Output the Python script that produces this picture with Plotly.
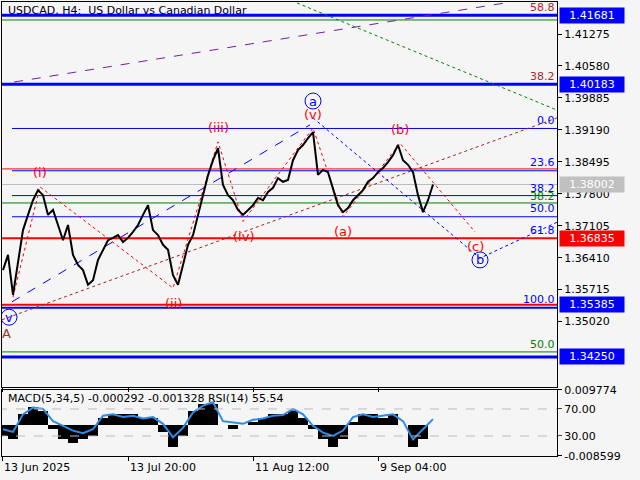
import plotly.graph_objects as go
from plotly.subplots import make_subplots

# --- data ---
close = [1.3614, 1.3647, 1.3560, 1.3636, 1.3701, 1.3734, 1.3766, 1.3788, 1.3777, 1.3734,
         1.3745, 1.3712, 1.3679, 1.3712, 1.3647, 1.3625, 1.3614, 1.3582, 1.3592, 1.3636,
         1.3658, 1.3679, 1.3684, 1.3690, 1.3675, 1.3684, 1.3697, 1.3712, 1.3734, 1.3755,
         1.3701, 1.3690, 1.3669, 1.3658, 1.3603, 1.3582, 1.3625, 1.3669, 1.3690, 1.3734,
         1.3777, 1.3820, 1.3853, 1.3879, 1.3799, 1.3777, 1.3766, 1.3745, 1.3734, 1.3745,
         1.3755, 1.3771, 1.3766, 1.3784, 1.3793, 1.3814, 1.3806, 1.3810, 1.3853, 1.3875,
         1.3886, 1.3901, 1.3914, 1.3821, 1.3832, 1.3827, 1.3788, 1.3755, 1.3740, 1.3749,
         1.3766, 1.3777, 1.3788, 1.3806, 1.3814, 1.3827, 1.3836, 1.3849, 1.3864, 1.3886,
         1.3853, 1.3843, 1.3827, 1.3777, 1.3740, 1.3766, 1.3800]
bars = list(range(len(close)))

macd_x = [i * 2 for i in range(44)]
macd_hist = [-0.003, -0.004, 0.003, 0.005, 0.004, -0.001, -0.004, -0.005, -0.004, -0.003,
             0.002, 0.003, 0.003, 0.003, 0.002, 0.002, -0.002, -0.006, -0.003, 0.004,
             0.006, 0.006, 0.0, -0.001, 0.0, 0.001, 0.002, 0.003, 0.003, 0.004,
             0.002, -0.001, -0.004, -0.006, -0.004, 0.001, 0.003, 0.003, 0.002, 0.003,
             0.0, -0.006, -0.004, 0.0]
rsi = [40, 36, 62, 72, 70, 52, 45, 38, 34, 40, 60, 62, 58, 60, 56, 58, 48, 28, 42, 65,
       75, 80, 52, 50, 48, 54, 56, 60, 61, 70, 62, 45, 35, 30, 38, 58, 62, 58, 60, 62,
       52, 25, 40, 55]

price_ticks = [1.41275, 1.40580, 1.39885, 1.39190, 1.38495, 1.37800, 1.37105, 1.36410, 1.35715, 1.35020]
date_ticks = [-0.2, 25, 50, 75]
date_labels = ["13 Jun 2025", "13 Jul 20:00", "11 Aug 12:00", "9 Sep 04:00"]

# wave pivots (bar index, price)
wave_x = [2, 7.4, 34, 43, 48, 62, 68, 79.4, 94.4]
wave_y = [1.3555, 1.3795, 1.3575, 1.3893, 1.3720, 1.3923, 1.3730, 1.3890, 1.3697]
wave_txt = ["", "(i)", "(ii)", "(iii)", "(iv)", "(v)", "(a)", "(b)", "(c)"]
wave_pos = ["", "above", "below", "above", "below", "above", "below", "above", "below"]

# horizontal levels: price, colour, width, start bar
levels = [(1.41681, "red", 1, -1), (1.41681, "blue", 3, -1), (1.4158, "green", 1, -1),
          (1.40183, "red", 1, -1), (1.40183, "blue", 3, -1), (1.3922, "blue", 1, 1.8),
          (1.3834, "red", 1, -1), (1.3830, "blue", 1, 1.8), (1.38002, "#bbbbbb", 1, -1),
          (1.3776, "blue", 1, 1.8), (1.3760, "green", 1, -1), (1.3730, "blue", 1, 1.8),
          (1.36835, "red", 2, -1), (1.35385, "red", 2, -1), (1.35320, "blue", 2, -1),
          (1.3436, "green", 1, -1), (1.34250, "blue", 3, -1)]

# fib labels: text, price, colour
fib_labels = [("58.8", 1.4186, "brown"), ("38.2", 1.4035, "brown"), ("0.0", 1.3940, "blue"),
              ("23.6", 1.3848, "blue"), ("38.2", 1.3792, "blue"), ("38.2", 1.3773, "green"),
              ("50.0", 1.3747, "blue"), ("61.8", 1.3700, "blue"), ("100.0", 1.3550, "blue"),
              ("50.0", 1.3452, "green")]

# price boxes on the axis: text, price, background
boxes = [("1.41681", 1.41681, "blue"), ("1.40183", 1.40183, "blue"), ("1.38002", 1.38002, "#c0c0c0"),
         ("1.36835", 1.36835, "red"), ("1.35385", 1.35385, "blue"), ("1.34250", 1.34250, "blue")]

# trend lines: (x list, y list, colour, dash)
trends = [([2.2, 100.4], [1.4023, 1.4195], "#7020a0", "dash"),
          ([58.8, 110.8], [1.4195, 1.3962], "green", "dot"),
          ([-0.2, 110.8], [1.3506, 1.3945], "#a02020", "dot"),
          ([1.8, 61.4], [1.3545, 1.3930], "blue", "dash"),
          ([62, 95.4, 110.8], [1.3945, 1.3640, 1.3718], "blue", "dot")]

FONT = "DejaVu Sans"
XMAX = 110.8

fig = make_subplots(rows=2, cols=1, shared_xaxes=True, row_heights=[0.85, 0.15],
                    vertical_spacing=0.006, specs=[[{}], [{"secondary_y": True}]])

for tx, ty, col, dash in trends:
    fig.add_trace(go.Scatter(x=tx, y=ty, mode="lines", line=dict(color=col, width=1, dash=dash),
                             hoverinfo="skip"), row=1, col=1)

fig.add_trace(go.Scatter(x=wave_x, y=wave_y, mode="lines", line=dict(color="red", width=1, dash="dot"),
                         hoverinfo="skip"), row=1, col=1)

fig.add_trace(go.Scatter(x=bars, y=close, mode="lines", line=dict(color="black", width=2)), row=1, col=1)

for price, col, w, x0 in levels:
    fig.add_shape(type="line", x0=x0, x1=XMAX, y0=price, y1=price, line=dict(color=col, width=w),
                  xref="x", yref="y", layer="below")

for t, px, py, pos in zip(wave_txt, wave_x, wave_y, wave_pos):
    if t:
        fig.add_annotation(x=px, y=py, text=t, showarrow=False, font=dict(color="red", size=13, family=FONT),
                           yshift=14 if pos == "above" else -15, xref="x", yref="y")

for t, px, py, sh in [("a", 62, 1.3923, 27), ("b", 95.4, 1.3697, -28), ("v", 1.2, 1.3555, -20)]:
    fig.add_annotation(x=px, y=py, text=t, showarrow=False, yshift=sh, xref="x", yref="y",
                       font=dict(color="blue", size=13, family=FONT))
    fig.add_shape(type="circle", xref="x", yref="y", xsizemode="pixel", ysizemode="pixel",
                  xanchor=px, yanchor=py, x0=-8, x1=8, y0=sh - 8, y1=sh + 8,
                  line=dict(color="blue", width=1))
fig.add_annotation(x=0.6, y=1.3555, text="A", showarrow=False, yshift=-36, xref="x", yref="y",
                   font=dict(color="#a03030", size=13, family=FONT))

for t, py, col in fib_labels:
    fig.add_annotation(x=XMAX, y=py, text=t, showarrow=False, xanchor="right", xref="x", yref="y",
                       font=dict(color=col, size=11, family=FONT))

for t, py, bg in boxes:
    fig.add_annotation(x=1.0, y=py, xref="paper", yref="y", text=t, showarrow=False, xanchor="left",
                       xshift=2, bgcolor=bg, borderpad=1, width=62,
                       font=dict(color="white", size=11, family=FONT))

fig.add_annotation(x=0, y=1, xref="paper", yref="paper", text="USDCAD, H4:  US Dollar vs Canadian Dollar",
                   showarrow=False, xanchor="left", yanchor="top", xshift=4,
                   font=dict(color="black", size=11, family=FONT))

# --- MACD / RSI pane ---
fig.add_trace(go.Bar(x=macd_x, y=macd_hist, marker=dict(color="black", line=dict(width=0)), width=2.0),
              row=2, col=1, secondary_y=False)
fig.add_trace(go.Scatter(x=macd_x, y=rsi, mode="lines", line=dict(color="#2e8be8", width=2)),
              row=2, col=1, secondary_y=True)
for lvl in [70, 30]:
    fig.add_shape(type="line", x0=-1, x1=XMAX, y0=lvl, y1=lvl, xref="x2", yref="y3",
                  line=dict(color="#bbbbbb", width=1, dash="dash"))
fig.add_annotation(x=0, y=0.145, xref="paper", yref="paper", yanchor="top", xanchor="left", xshift=4,
                   text="MACD(5,34,5) -0.000292 -0.001328 RSI(14) 55.54", showarrow=False,
                   font=dict(color="black", size=11, family=FONT))

for xv, lab in zip(date_ticks, date_labels):
    fig.add_annotation(x=xv, y=0, xref="x2", yref="paper", text=lab, showarrow=False, xanchor="left",
                       yanchor="top", yshift=-3, font=dict(color="black", size=11, family=FONT))

axis_common = dict(showgrid=False, zeroline=False, showline=True, linecolor="black", mirror=True,
                   tickfont=dict(color="black", size=11, family=FONT), ticks="outside", ticklen=4,
                   tickcolor="black", automargin=False)
fig.update_xaxes(range=[-0.2, XMAX], tickvals=date_ticks, showticklabels=False, domain=[0, 1], **axis_common)
fig.update_yaxes(row=1, col=1, range=[1.33597, 1.41971], side="right", tickvals=price_ticks,
                 tickformat=".5f", domain=[0.152, 1], **axis_common)
fig.update_yaxes(row=2, col=1, secondary_y=False, range=[-0.008599, 0.009774], side="right",
                 tickvals=[-0.008599, 0.009774], ticktext=["-0.008599", "0.009774"],
                 domain=[0, 0.1454], **axis_common)
fig.update_yaxes(row=2, col=1, secondary_y=True, range=[0.4, 98.1], side="right",
                 tickvals=[30, 70], ticktext=["30.00", "70.00"], overlaying="y2", automargin=False,
                 showgrid=False, zeroline=False, ticks="outside", ticklen=4,
                 tickfont=dict(color="black", size=11, family=FONT))

fig.update_layout(width=640, height=480, margin=dict(l=2, r=83, t=2, b=24, autoexpand=False),
                  showlegend=False, paper_bgcolor="#f5f5f5", plot_bgcolor="#f5f5f5", bargap=0)

fig.write_html("out.html", config={"responsive": False, "displayModeBar": False},
               post_script="document.documentElement.style.margin='0';document.body.style.margin='0';"
                           "document.body.style.overflow='hidden';")
